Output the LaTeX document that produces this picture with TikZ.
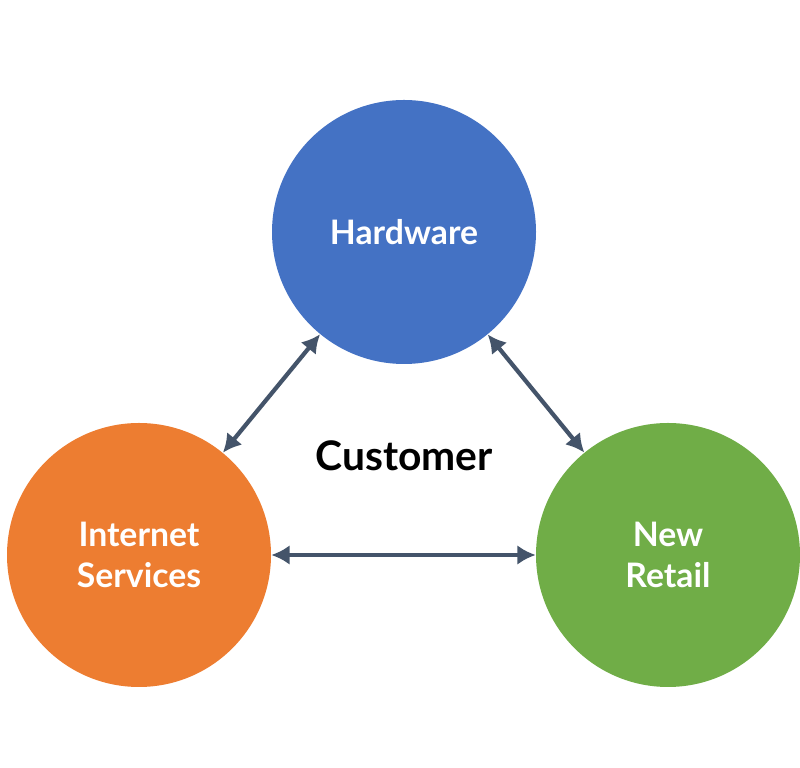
\documentclass[tikz,border=0pt]{standalone}
\usepackage{fontspec}
\setmainfont{Lato}
\usetikzlibrary{arrows.meta}
\definecolor{hwblue}{HTML}{4472C4}
\definecolor{isorange}{HTML}{ED7D31}
\definecolor{nrgreen}{HTML}{70AD47}
\definecolor{link}{HTML}{44546A}
\tikzset{
  unit/.style={circle,minimum size=6.6cm,inner sep=0pt,text=white,
    font=\fontsize{24}{29}\selectfont\bfseries,align=center},
  link/.style={draw=link,line width=3pt,{Latex[length=13pt,width=14pt]}-{Latex[length=13pt,width=14pt]}}
}
\begin{document}
\begin{tikzpicture}
      \useasboundingbox (0,0) rectangle (20,19.2);
      \node[unit,fill=hwblue] (hw) at (10.1,13.4) {Hardware};
      \node[unit,fill=isorange] (is) at (3.475,5.325) {Internet\\Services};
      \node[unit,fill=nrgreen] (nr) at (16.7,5.325) {New\\Retail};
      \node[font=\fontsize{29}{34}\selectfont\bfseries] (cu) at (10.1,7.8) {Customer};
      \draw[link] (hw) -- (is);
      \draw[link] (hw) -- (nr);
      \draw[link] (is) -- (nr);
\end{tikzpicture}
\end{document}
